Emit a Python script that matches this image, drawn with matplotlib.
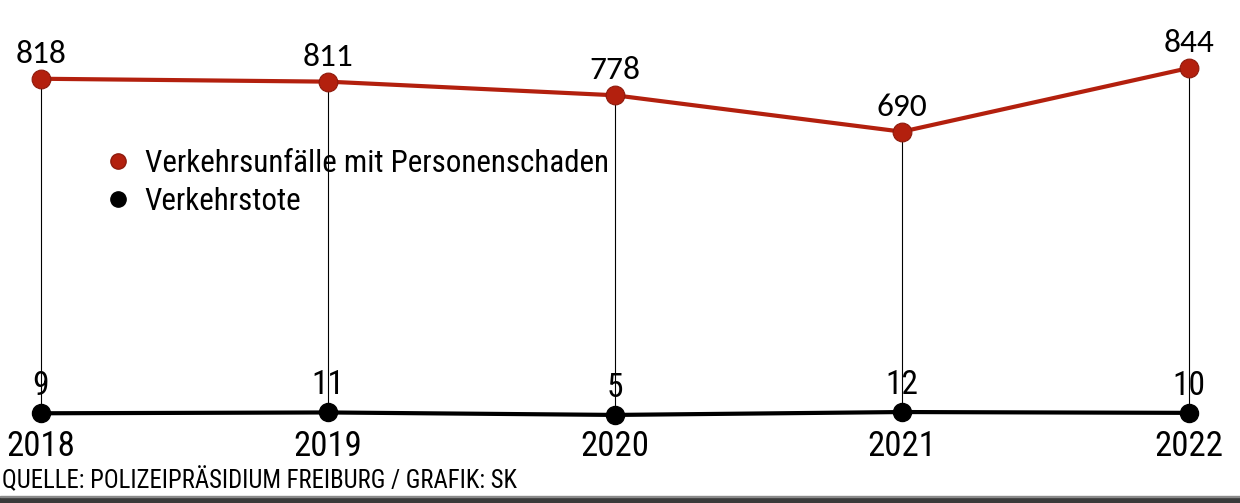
import numpy as np
import matplotlib
matplotlib.use('Agg')
import matplotlib.pyplot as plt
from matplotlib.lines import Line2D
from matplotlib.patches import Rectangle

# Data
years = ['2018', '2019', '2020', '2021', '2022']
unfaelle = [818, 811, 778, 690, 844]   # Verkehrsunfälle mit Personenschaden
tote = [9, 11, 5, 12, 10]              # Verkehrstote

RED = '#b3200e'
RED_EDGE = '#8e1a0c'
NARROW = ['Roboto Condensed', 'Archivo Narrow', 'Barlow Condensed', 'DejaVu Sans']
NUMFONT = ['Carlito', 'Lato', 'DejaVu Sans']

W, H = 1240, 503
fig = plt.figure(figsize=(W / 100, H / 100), dpi=100)
ax = fig.add_axes([0, 0, 1, 1])
ax.set_axis_off()

# Map data to the pixel layout of the reference
x = np.arange(len(years))
px_first, px_last = 41, 1189
w = (len(years) - 1) / (px_last - px_first) * W
xmin = -px_first / W * w
ax.set_xlim(xmin, xmin + w)
py_zero, py_top, v_top = 417, 68, 844
h = v_top / (py_zero - py_top) * H
ymax = py_zero / H * h
ax.set_ylim(ymax - h, ymax)

# Thin connectors between the two series
ax.vlines(x, tote, unfaelle, color='black', lw=0.8, zorder=1)

ax.plot(x, unfaelle, color=RED, lw=3, marker='o', ms=13.5,
        mfc=RED, mec=RED_EDGE, mew=0.8, zorder=3)
ax.plot(x, tote, color='black', lw=3, marker='o', ms=13, zorder=3)

for xi, v in zip(x, unfaelle):
    ax.annotate(str(v), (xi, v), xytext=(0, 11.5), textcoords='offset points',
                ha='center', va='baseline', fontsize=24, family=NUMFONT)
for xi, v in zip(x, tote):
    ax.annotate(str(v), (xi, v), xytext=(0, 13), textcoords='offset points',
                ha='center', va='baseline', fontsize=24, family=NARROW, zorder=0)

# Year labels
for xi, yr in zip(x, years):
    ax.text(xi, 1 - 456 / H, yr, transform=ax.get_xaxis_transform(),
            ha='center', va='baseline', fontsize=25, family=NARROW)

# Legend
handles = [Line2D([], [], ls='', marker='o', ms=11, mfc=RED, mec=RED_EDGE),
           Line2D([], [], ls='', marker='o', ms=11, mfc='black', mec='black')]
leg = ax.legend(handles, ['Verkehrsunfälle mit Personenschaden', 'Verkehrstote'],
                loc='upper left', bbox_to_anchor=(106 / W, 1 - 149 / H),
                frameon=False, handlelength=0.8, handletextpad=0.45,
                labelspacing=0.3, borderaxespad=0, borderpad=0,
                prop={'family': NARROW, 'size': 22.3})

# Source line
fig.text(2 / W, (H - 488) / H, 'QUELLE: POLIZEIPRÄSIDIUM FREIBURG / GRAFIK: SK',
         ha='left', va='baseline', fontsize=17.8, family=NARROW)

# Dark rule at the bottom
fig.patches.append(Rectangle((0, 0), 1, 6 / H, transform=fig.transFigure,
                             color='#3a3a3a', zorder=5))
fig.patches.append(Rectangle((0, 6 / H), 1, 1.5 / H, transform=fig.transFigure,
                             color='#8a8a8a', zorder=5))

fig.savefig('out.png', dpi=100)
